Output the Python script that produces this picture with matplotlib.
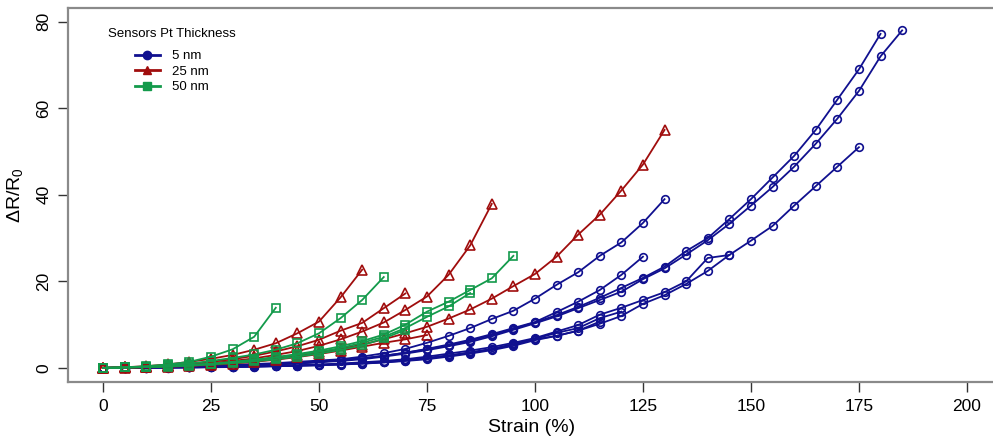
import matplotlib
matplotlib.use("Agg")
import matplotlib.pyplot as plt
from matplotlib.lines import Line2D
import numpy as np

plt.rcParams['font.family'] = ['Liberation Sans', 'DejaVu Sans']
plt.rcParams['mathtext.fontset'] = 'custom'
plt.rcParams['mathtext.rm'] = 'Liberation Sans'
plt.rcParams['mathtext.it'] = 'Liberation Sans:italic'

# strain step between readings (%)
STEP = 5

# 5 nm sensors (dR/R0 read every 5 % strain, starting at 0)
pt5_a = [0, 0.05, 0.1, 0.15, 0.25, 0.35, 0.45, 0.6, 0.8, 1.0,
         1.3, 1.6, 2.0, 2.6, 3.3, 4.1, 5.0, 6.0, 7.3, 8.8,
         10.3, 11.9, 13.8, 15.7, 17.6, 20.5, 23.0, 26.2, 29.5, 33.3,
         37.5, 41.8, 46.5, 51.8, 57.6, 64.0, 72.0, 78.0]
pt5_b = [0, 0.05, 0.1, 0.2, 0.3, 0.4, 0.5, 0.7, 0.9, 1.1,
         1.4, 1.8, 2.2, 2.8, 3.5, 4.3, 5.2, 6.3, 7.6, 9.0,
         10.5, 12.2, 14.1, 16.2, 18.5, 20.8, 23.4, 27.0, 30.0, 34.4,
         39.0, 44.0, 49.0, 55.0, 62.0, 69.0, 77.2]
pt5_c = [0, 0.03, 0.06, 0.1, 0.15, 0.2, 0.25, 0.3, 0.4, 0.5,
         0.6, 0.8, 1.0, 1.3, 1.7, 2.2, 2.8, 3.5, 4.3, 5.4,
         6.6, 7.4, 8.6, 10.2, 12.0, 14.8, 16.8, 19.4, 22.4, 26.1,
         29.4, 32.8, 37.5, 42.0, 46.5, 51.0]
pt5_d = [0, 0.03, 0.06, 0.1, 0.15, 0.2, 0.3, 0.4, 0.5, 0.6,
         0.8, 1.0, 1.3, 1.6, 2.0, 2.6, 3.3, 4.0, 4.8, 5.8,
         6.9, 8.4, 9.9, 12.3, 13.9, 15.7, 17.5, 20.0, 25.4, 26.1]
pt5_e = [0, 0.02, 0.05, 0.08, 0.12, 0.18, 0.25, 0.35, 0.45, 0.55,
         0.7, 0.9, 1.1, 1.4, 1.8, 2.3, 2.9, 3.6, 4.4, 5.5,
         6.7, 8.1, 9.2, 11.5, 13.0]
pt5_f = [0, 0.02, 0.04, 0.07, 0.1, 0.15, 0.2, 0.28, 0.38, 0.5,
         0.62, 0.78, 0.98, 1.25, 1.6, 2.0, 2.6, 3.3, 4.1, 5.1,
         6.4, 7.4, 8.6, 10.7]
pt5_g = [0, 0.1, 0.2, 0.3, 0.4, 0.5, 0.7, 0.9, 1.1, 1.4,
         1.7, 2.0, 2.6, 3.4, 4.4, 5.8, 7.4, 9.2, 11.3, 13.2,
         16.0, 19.2, 22.1, 25.9, 29.0, 33.5, 39.0]
pt5_h = [0, 0.05, 0.1, 0.2, 0.3, 0.4, 0.5, 0.7, 0.9, 1.1,
         1.4, 1.8, 2.2, 2.8, 3.5, 4.4, 5.4, 6.5, 7.8, 9.2,
         10.6, 12.9, 15.3, 18.0, 21.5, 25.7]

# 25 nm sensors
pt25_a = [0, 0.1, 0.2, 0.4, 0.6, 0.9, 1.3, 1.8, 2.3, 2.9,
          3.6, 4.4, 5.4, 6.6, 8.0, 9.5, 11.4, 13.5, 16.0, 18.9,
          21.7, 25.7, 30.8, 35.4, 41.0, 47.0, 55.0]
pt25_b = [0, 0.1, 0.2, 0.4, 0.7, 1.1, 1.6, 2.2, 3.0, 3.9,
          5.1, 6.6, 8.4, 10.5, 13.4, 16.5, 21.5, 28.3, 37.9]
pt25_c = [0, 0.1, 0.3, 0.5, 0.9, 1.4, 2.0, 2.8, 3.8, 5.0,
          6.5, 8.6, 10.4, 13.8, 17.2]
pt25_d = [0, 0.15, 0.4, 0.8, 1.4, 2.1, 3.0, 4.2, 5.7, 8.0,
          10.7, 16.3, 22.7]
pt25_e = [0, 0.05, 0.1, 0.25, 0.45, 0.7, 1.0, 1.4, 1.9, 2.5,
          3.2, 4.0, 4.9, 5.8, 6.6, 7.6]

# 50 nm sensors
pt50_a = [0, 0.1, 0.4, 0.8, 1.4, 2.6, 4.3, 7.2, 13.9]
pt50_b = [0, 0.1, 0.3, 0.6, 1.0, 1.6, 2.3, 3.1, 4.2, 5.7,
          8.0, 11.5, 15.7, 21.0]
pt50_c = [0, 0.1, 0.2, 0.4, 0.7, 1.0, 1.4, 1.9, 2.5, 3.2,
          4.0, 5.0, 6.2, 7.7, 10.0, 13.0, 15.3, 18.0, 20.7, 25.9]
pt50_d = [0, 0.1, 0.2, 0.35, 0.6, 0.9, 1.3, 1.8, 2.4, 3.0,
          3.7, 4.6, 5.8, 7.2, 9.2, 11.8, 14.2, 17.3]
pt50_e = [0, 0.1, 0.2, 0.3, 0.5, 0.8, 1.1, 1.5, 2.0, 2.6,
          3.3, 4.2, 5.2, 6.8, 8.8]

groups = [
    ("5 nm", "#10108f", "o", [pt5_a, pt5_b, pt5_c, pt5_d, pt5_e, pt5_f, pt5_g, pt5_h]),
    ("25 nm", "#a00d0d", "^", [pt25_a, pt25_b, pt25_c, pt25_d, pt25_e]),
    ("50 nm", "#139a4b", "s", [pt50_a, pt50_b, pt50_c, pt50_d, pt50_e]),
]

fig = plt.figure(figsize=(9.93, 4.40), dpi=100)
# right edge of the box sits just past the picture, like the original crop
ax = fig.add_axes([0.0685, 0.132, 0.9335, 0.85])

marker_size = {"o": 5.5, "^": 6.5, "s": 5.5}
for label, color, marker, curves in groups:
    for vals in curves:
        strain = np.arange(len(vals)) * STEP
        ax.plot(strain, vals, color=color, lw=1.3, marker=marker,
                ms=marker_size[marker], mfc='none', mec=color, mew=1.2)

ax.set_xlim(-8.1, 206.5)
ax.set_ylim(-3.24, 83.2)
ax.set_xticks([0, 25, 50, 75, 100, 125, 150, 175, 200])
ax.set_yticks([0, 20, 40, 60, 80])
ax.tick_params(axis='both', direction='out', length=7, width=1, color='#333333',
               labelsize=12.5, pad=5)
ax.tick_params(axis='y', labelrotation=90)
for lab in ax.get_yticklabels():
    lab.set_va('center')
for sp in ax.spines.values():
    sp.set_color('#8a8a8a')
    sp.set_linewidth(1.6)

ax.set_xlabel("Strain (%)", fontsize=14, labelpad=4)
ax.set_ylabel(r"$\Delta$R/R$_0$", fontsize=14, labelpad=8)

handles = [Line2D([], [], color=c, lw=2, marker=m, ms=6, mfc=c, mec=c)
           for _, c, m, _ in groups]
leg = ax.legend(handles, [g[0] for g in groups], title="Sensors Pt Thickness",
                loc='upper left', bbox_to_anchor=(0.033, 0.97), frameon=False,
                fontsize=9.5, title_fontsize=9.5, handlelength=1.9,
                handletextpad=0.9, labelspacing=0.25, borderpad=0.2)
# a bit more room between the title and the entries
leg._legend_box.sep = 7

fig.savefig("out.png", dpi=100)
